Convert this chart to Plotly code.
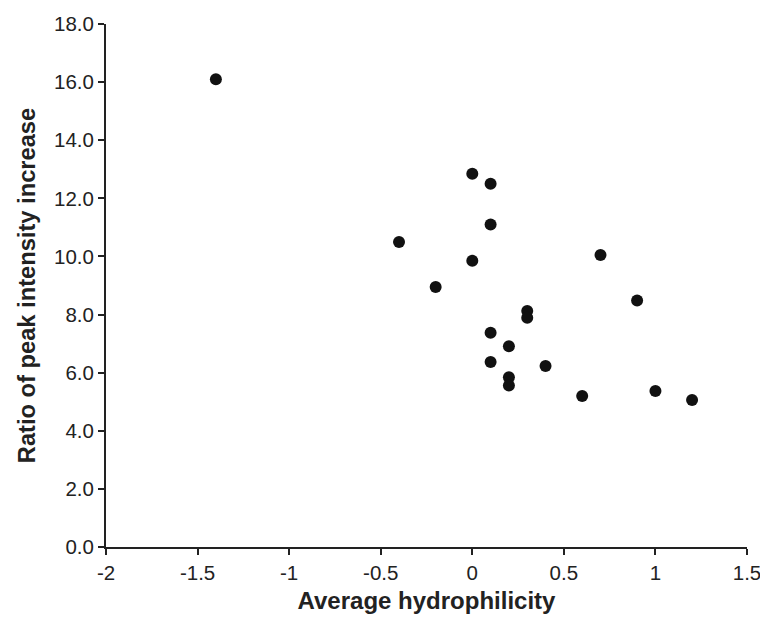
import plotly.graph_objects as go

hydrophilicity = [-1.4, 0.0, 0.1, 0.1, -0.4, 0.0, 0.7, -0.2, 0.9, 0.3, 0.3, 0.1, 0.2, 0.1, 0.4, 0.2, 0.2, 0.6, 1.0, 1.2]
ratio = [16.1, 12.85, 12.5, 11.1, 10.5, 9.85, 10.05, 8.95, 8.48, 8.12, 7.89, 7.37, 6.91, 6.37, 6.23, 5.84, 5.56, 5.2, 5.37, 5.06]

x_ticks = [-2, -1.5, -1, -0.5, 0, 0.5, 1, 1.5]
x_tick_labels = ["-2", "-1.5", "-1", "-0.5", "0", "0.5", "1", "1.5"]
y_ticks = [0, 2, 4, 6, 8, 10, 12, 14, 16, 18]
y_tick_labels = ["0.0", "2.0", "4.0", "6.0", "8.0", "10.0", "12.0", "14.0", "16.0", "18.0"]

fig = go.Figure(go.Scatter(
    x=hydrophilicity, y=ratio, mode="markers",
    marker=dict(color="#111111", size=12),
    showlegend=False, cliponaxis=False,
))

font = "Liberation Sans, Arial, sans-serif"
fig.update_layout(
    width=760, height=606,
    margin=dict(l=98, r=21, t=16, b=67, autoexpand=False),
    paper_bgcolor="white", plot_bgcolor="white",
    font=dict(family=font, color="#222222", size=18),
    xaxis=dict(
        range=[-2, 1.5], tickvals=x_ticks, ticktext=x_tick_labels,
        showgrid=False, zeroline=False, showline=True, linecolor="#222222", linewidth=2,
        ticks="outside", ticklen=6, tickwidth=2, tickcolor="#222222", automargin=False,
        ticklabeloverflow="allow",
        tickfont=dict(size=20.5, family=font, color="#222222"),
        title=dict(text="<b>Average hydrophilicity</b>", font=dict(size=24, family=font), standoff=14),
    ),
    yaxis=dict(
        range=[0, 18], tickvals=y_ticks, ticktext=y_tick_labels,
        showgrid=False, zeroline=False, showline=True, linecolor="#222222", linewidth=2,
        ticks="outside", ticklen=6, tickwidth=2, tickcolor="#222222", automargin=False,
        tickfont=dict(size=20.5, family=font, color="#222222"),
        title=dict(text="<b>Ratio of peak intensity increase</b>", font=dict(size=23.7, family=font), standoff=12),
    ),
)

fig.write_html("out.html")
